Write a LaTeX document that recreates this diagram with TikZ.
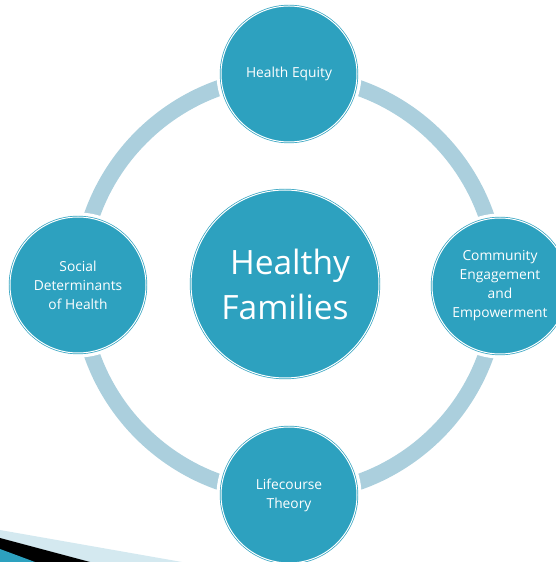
\documentclass[tikz,border=0pt]{standalone}
\usepackage{fontspec}
\setmainfont{Open Sans}
\definecolor{tealfill}{HTML}{2DA1BF}
\definecolor{ringblue}{HTML}{ABCFDD}
\definecolor{stripeblue}{HTML}{D4E9F0}
\tikzset{
  ringline/.style={draw=ringblue, line width=16pt},
  bubble/.style={circle, inner sep=0pt, fill=tealfill, draw=tealfill,
    double=white, double distance=1pt, line width=0.7pt,
    preaction={draw=white, line width=9pt},
    text=white, align=center},
  smalltext/.style={font=\fontsize{13.8}{19}\selectfont},
  bigtext/.style={font=\fontsize{33.5}{45}\selectfont}
}
\begin{document}
\begin{tikzpicture}[x=1pt,y=1pt]
\useasboundingbox (0,0) rectangle (556,562);
% decorative corner
\fill[stripeblue] (0,32) -- (182,0) -- (0,0) -- cycle;
\fill[black] (0,24) -- (90,0) -- (0,0) -- cycle;
\fill[tealfill] (0,13) -- (35,0) -- (0,0) -- cycle;
% ring
\coordinate (rc) at (289,277);
\draw[ringline] (rc) circle[radius=209];
% circles
\node[bubble, bigtext, minimum size=188pt] (nc) at (285,278) {\hspace{10pt}Healthy\\Families};
\node[bubble, smalltext, minimum size=136pt] (nt) at (289,488) {Health Equity};
\node[bubble, smalltext, minimum size=136pt] (nl) at (78,277) {Social\\Determinants\\of Health};
\node[bubble, smalltext, minimum size=136pt] (nr) at (500,276) {Community\\Engagement\\and\\Empowerment};
\node[bubble, smalltext, minimum size=136pt] (nb) at (289,67) {Lifecourse\\Theory};
\end{tikzpicture}
\end{document}
